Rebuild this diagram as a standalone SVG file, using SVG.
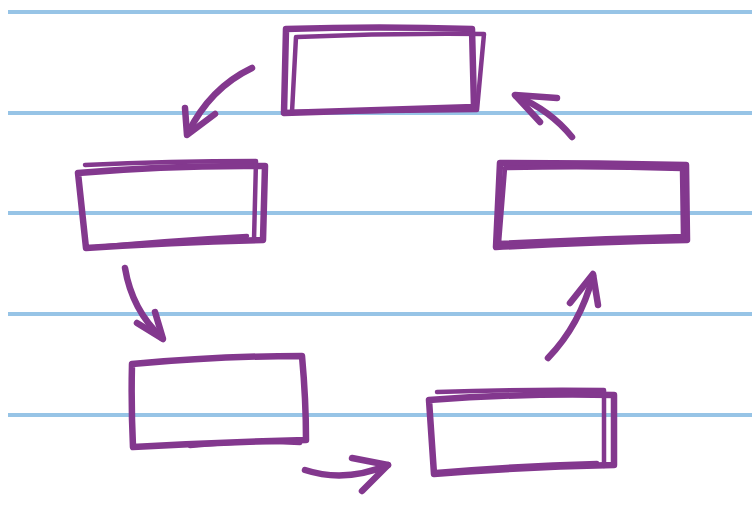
<svg xmlns="http://www.w3.org/2000/svg" width="752" height="510" viewBox="0 0 752 510">
<style>
.rule{stroke:#97C4E6;stroke-width:4;fill:none}
.box{stroke:#83388E;stroke-width:6.5;fill:none;stroke-linecap:round;stroke-linejoin:round}
.box2{stroke:#83388E;stroke-width:4.5;fill:none;stroke-linecap:round;stroke-linejoin:round}
.arr{stroke:#83388E;stroke-width:6.5;fill:none;stroke-linecap:round;stroke-linejoin:round}
</style>
<rect width="752" height="510" fill="#ffffff"/>
<g id="ruling">
<line class="rule" x1="8" y1="12" x2="752" y2="12"/>
<line class="rule" x1="8" y1="113" x2="752" y2="113"/>
<line class="rule" x1="8" y1="213" x2="752" y2="213"/>
<line class="rule" x1="8" y1="314" x2="752" y2="314"/>
<line class="rule" x1="8" y1="415" x2="752" y2="415"/>
</g>
<g id="node-top">
<path class="box" d="M286,29 Q380,26 472,29 L474,107 Q380,110 284,113 Z"/>
<path class="box2" d="M297,37 Q390,33 484,34 L477,110 Q385,111 292,112 L296,37"/>
</g>
<g id="node-left">
<path class="box" d="M78,173 Q170,165 265,166 L263,240 Q175,242 86,248 Z"/>
<path class="box2" d="M85,165 Q170,161 256,161 L254,240 M86,248 Q170,240 247,236"/>
</g>
<g id="node-right">
<path class="box" d="M500,163 Q595,163 686,165 L687,240 Q590,242 496,247 Z"/>
<path class="box2" d="M505,168 Q595,166 682,169 L683,236 Q590,238 499,243 Z"/>
</g>
<g id="node-bottom-left">
<path class="box" d="M132,364 Q220,356 302,356 Q306,400 306,440 Q220,442 133,447 Q131,405 132,364 Z"/>
<path class="box2" d="M190,446 Q250,440 300,443"/>
</g>
<g id="node-bottom-right">
<path class="box" d="M429,400 Q520,393 614,395 L614,465 Q520,467 434,474 Z"/>
<path class="box2" d="M437,392 Q520,389 604,390 L604,466 M436,472 Q520,465 597,463"/>
</g>
<g id="connectors">
<path class="arr" d="M252,68 Q210,88 188,133"/>
<path class="arr" d="M185,108 L187,135 L215,114"/>
<path class="arr" d="M572,137 Q550,110 516,96"/>
<path class="arr" d="M540,122 L515,95 L557,98"/>
<path class="arr" d="M125,268 Q132,310 162,338"/>
<path class="arr" d="M137,323 L163,339 L155,312"/>
<path class="arr" d="M548,358 Q580,325 593,276"/>
<path class="arr" d="M570,303 L593,274 L598,305"/>
<path class="arr" d="M305,470 Q345,483 388,465"/>
<path class="arr" d="M352,458 L388,465 L362,491"/>
</g>
</svg>
